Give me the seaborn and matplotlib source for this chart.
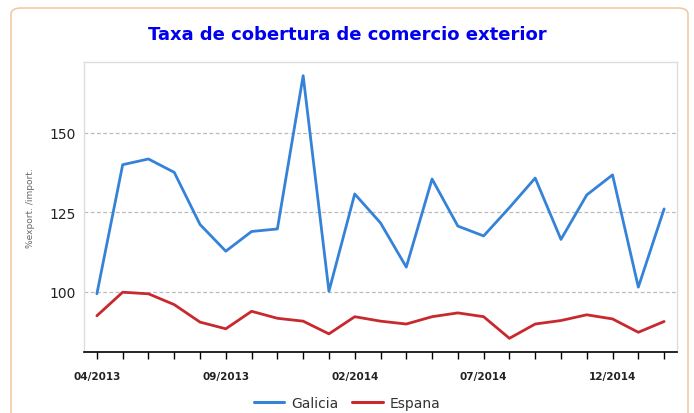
import numpy as np
import pandas as pd
import matplotlib
matplotlib.use("Agg")
import matplotlib.pyplot as plt
from matplotlib.patches import FancyBboxPatch
import seaborn as sns

months = ["04/2013", "05/2013", "06/2013", "07/2013", "08/2013", "09/2013",
          "10/2013", "11/2013", "12/2013", "01/2014", "02/2014", "03/2014",
          "04/2014", "05/2014", "06/2014", "07/2014", "08/2014", "09/2014",
          "10/2014", "11/2014", "12/2014", "01/2015", "02/2015"]
galicia = [99.4, 140.0, 141.8, 137.6, 121.2, 112.8, 119.0, 119.8, 168.0,
           100.2, 130.8, 121.7, 107.8, 135.5, 120.7, 117.6, 126.5, 135.8,
           116.5, 130.5, 136.8, 101.5, 126.1]
espana = [92.5, 99.9, 99.4, 96.0, 90.5, 88.4, 93.9, 91.7, 90.8, 86.8, 92.2,
          90.8, 89.9, 92.2, 93.4, 92.2, 85.4, 89.9, 91.0, 92.8, 91.5, 87.3, 90.7]
series_names = ["Galicia", "Espana"]
yticks = [100, 125, 150]

df = pd.DataFrame({"idx": list(range(len(months))) * 2,
                   "valor": galicia + espana,
                   "serie": [series_names[0]] * len(months) + [series_names[1]] * len(months)})

sns.set_style("white")
plt.rcParams["font.family"] = ["DejaVu Sans"]

fig = plt.figure(figsize=(6.94, 4.14), dpi=100)
# outer rounded frame
fig.patches.append(FancyBboxPatch((11 / 694, -0.05), 677 / 694, 1 - 9 / 414 + 0.05,
                                  boxstyle="round,pad=0,rounding_size=0.015",
                                  transform=fig.transFigure, fill=False,
                                  edgecolor="#f2c9a4", linewidth=1.2))

ax = fig.add_axes([84 / 694, 1 - 353 / 414, (677 - 84) / 694, (353 - 63) / 414])
palette = {"Galicia": "#3582d9", "Espana": "#c8292e"}
sns.lineplot(data=df, x="idx", y="valor", hue="serie", palette=palette,
             linewidth=2.0, ax=ax, legend=False)

ax.set_xlim(-0.5, 22.5)
ax.set_ylim(81.1, 172.3)
ax.set_yticks(yticks)
ax.set_yticklabels([str(v) for v in yticks], fontsize=10, color="#222222")
ax.tick_params(axis="y", left=False, length=0, pad=6)
ax.set_xticks(range(len(months)))
ax.set_xticklabels([m if i % 5 == 0 else "" for i, m in enumerate(months)],
                   fontsize=7.5, fontweight="bold", color="#222222")
ax.tick_params(axis="x", bottom=True, length=5, width=1, color="black", pad=9,
               direction="out")
ax.yaxis.grid(True, linestyle=(0, (3, 2)), color="#bbbbbb", linewidth=0.9)
ax.xaxis.grid(False)
ax.set_xlabel("")
ax.set_ylabel("%export. /import.", fontsize=6.5, color="#666666", labelpad=10)

for side in ["left", "top", "right"]:
    ax.spines[side].set_color("#dddddd")
    ax.spines[side].set_linewidth(1)
ax.spines["bottom"].set_color("black")
ax.spines["bottom"].set_linewidth(1.2)

fig.text(0.5, 1 - 35 / 414, "Taxa de cobertura de comercio exterior",
         ha="center", va="center", fontsize=13, fontweight="bold", color="#0000ee")

handles = [plt.Line2D([], [], color=palette[n], linewidth=2.2) for n in series_names]
fig.legend(handles, series_names, loc="center", bbox_to_anchor=(0.5, 1 - 404 / 414),
           ncol=2, frameon=False, fontsize=10, handlelength=2.2, columnspacing=1.0,
           handletextpad=0.5, labelcolor="#333333")

fig.savefig("out.png", dpi=100)
